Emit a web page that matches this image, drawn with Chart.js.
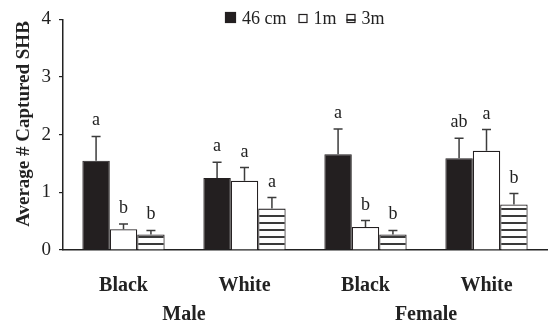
<!DOCTYPE html>
<html><head><meta charset="utf-8">
<script src="https://cdn.jsdelivr.net/npm/chart.js@4/dist/chart.umd.min.js"></script>
<style>html,body{margin:0;padding:0;background:#fff}#wrap{width:551px;height:323px}</style>
</head><body><div id="wrap"><canvas id="c" width="551" height="323"></canvas></div>
<script>
const categories = ["Black", "White", "Black", "White"];
const groups = ["Male", "Female"];
const seriesNames = ["46 cm", "1m", "3m"];
const means46 = [1.55, 1.25, 1.66, 1.59];
const means1m = [0.36, 1.20, 0.40, 1.72];
const means3m = [0.27, 0.72, 0.27, 0.79];
const err46 = [0.42, 0.27, 0.44, 0.35];
const err1m = [0.09, 0.23, 0.11, 0.37];
const err3m = [0.07, 0.19, 0.07, 0.19];
const letters46 = ["a", "a", "a", "ab"];
const letters1m = ["b", "a", "b", "a"];
const letters3m = ["b", "a", "b", "b"];
const yTicks = [0, 1, 2, 3, 4];

const SERIF = "'Liberation Serif', 'Times New Roman', serif";
const INK = '#231f20';

function stripePattern(ctx) {
  const p = document.createElement('canvas');
  p.width = 8; p.height = 7;
  const g = p.getContext('2d');
  g.fillStyle = '#ffffff'; g.fillRect(0, 0, 8, 7);
  g.fillStyle = '#3a3a3a'; g.fillRect(0, 5, 8, 2);
  return ctx.createPattern(p, 'repeat');
}

const canvas = document.getElementById('c');
const ctx0 = canvas.getContext('2d');
const stripes = stripePattern(ctx0);

const errs = [err46, err1m, err3m];
const letters = [letters46, letters1m, letters3m];

const annot = {
  id: 'annot',
  afterDatasetsDraw(chart) {
    const ctx = chart.ctx;
    const y = chart.scales.y;
    ctx.save();
    chart.data.datasets.forEach((ds, i) => {
      const meta = chart.getDatasetMeta(i);
      meta.data.forEach((el, j) => {
        const top = y.getPixelForValue(ds.data[j] + errs[i][j]);
        ctx.strokeStyle = '#3c3c3c';
        ctx.lineWidth = 1.5;
        ctx.beginPath();
        ctx.moveTo(el.x, el.y);
        ctx.lineTo(el.x, top);
        ctx.moveTo(el.x - 4.5, top);
        ctx.lineTo(el.x + 4.5, top);
        ctx.stroke();
        ctx.fillStyle = '#222';
        ctx.font = '18px ' + SERIF;
        ctx.textAlign = 'center';
        ctx.textBaseline = 'alphabetic';
        ctx.fillText(letters[i][j], el.x, top - 11);
      });
    });
    ctx.restore();
  },
  afterDraw(chart) {
    const ctx = chart.ctx;
    const x = chart.scales.x;
    const area = chart.chartArea;
    ctx.save();
    // group labels
    ctx.fillStyle = '#222';
    ctx.font = 'bold 20px ' + SERIF;
    ctx.textAlign = 'center';
    ctx.textBaseline = 'alphabetic';
    groups.forEach((g, k) => {
      const cx = (x.getPixelForValue(2 * k) + x.getPixelForValue(2 * k + 1)) / 2;
      ctx.fillText(g, cx, 320);
    });
    // y title
    ctx.save();
    ctx.translate(24, 124);
    ctx.rotate(-Math.PI / 2);
    ctx.font = 'bold 19px ' + SERIF;
    ctx.textBaseline = 'middle';
    ctx.fillText('Average # Captured SHB', 0, 0);
    ctx.restore();
    // legend
    const boxes = [11, 9, 9];
    const gapBefore = [0, 12, 10];
    let cx = 225;
    ctx.font = '18px ' + SERIF;
    ctx.textAlign = 'left';
    chart.data.datasets.forEach((ds, i) => {
      cx += gapBefore[i];
      const b = boxes[i];
      const by = 23 - b;
      ctx.fillStyle = ds.backgroundColor;
      ctx.fillRect(cx, by, b, b);
      ctx.strokeStyle = INK;
      ctx.lineWidth = 1.2;
      ctx.strokeRect(cx + 0.5, by + 0.5, b - 1, b - 1);
      cx += b + 6;
      ctx.fillStyle = '#222';
      ctx.fillText(ds.label, cx, 24);
      cx += ctx.measureText(ds.label).width;
    });
    ctx.restore();
  }
};

new Chart(canvas, {
  type: 'bar',
  data: {
    labels: categories,
    datasets: [
      { label: seriesNames[0], data: means46, backgroundColor: INK, borderColor: INK, borderWidth: 1 },
      { label: seriesNames[1], data: means1m, backgroundColor: '#ffffff', borderColor: INK, borderWidth: 1.2 },
      { label: seriesNames[2], data: means3m, backgroundColor: stripes, borderColor: INK, borderWidth: 1.2 }
    ]
  },
  options: {
    responsive: false,
    animation: false,
    devicePixelRatio: 1,
    layout: { padding: { left: 0, right: 4, top: 15, bottom: 0 } },
    datasets: { bar: { categoryPercentage: 0.68, barPercentage: 1.0 } },
    plugins: { legend: { display: false }, tooltip: { enabled: false } },
    scales: {
      x: {
        grid: { display: false, drawTicks: false },
        border: { color: '#222', width: 1.5 },
        ticks: { color: '#222', font: { family: SERIF, size: 20, weight: 'bold' }, padding: 24 },
        afterFit(s) { s.height = 73; }
      },
      y: {
        min: 0, max: 4,
        afterBuildTicks(s) { s.ticks = yTicks.map(v => ({ value: v })); },
        grid: { display: true, drawOnChartArea: false, drawTicks: true, tickLength: 4, color: '#222', lineWidth: 1.2 },
        border: { color: '#222', width: 1.5 },
        ticks: { color: '#222', font: { family: SERIF, size: 19 }, padding: 8 },
        afterFit(s) { s.width = 63; }
      }
    }
  },
  plugins: [annot]
});
</script>
</body></html>
